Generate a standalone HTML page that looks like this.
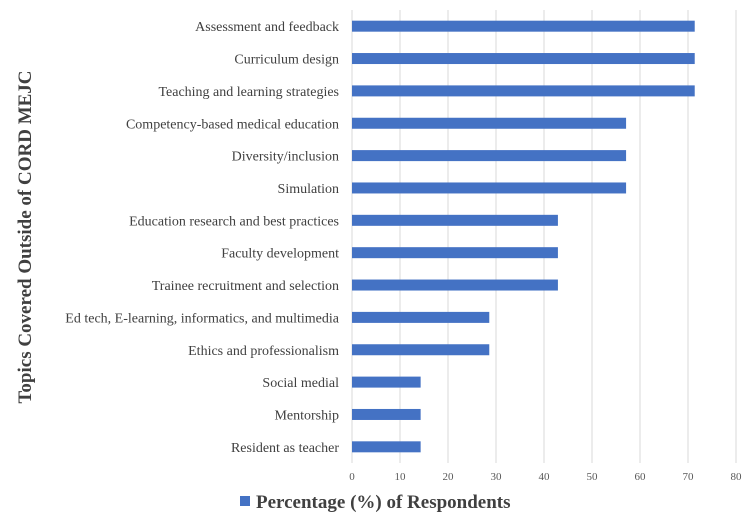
<!DOCTYPE html>
<html><head><meta charset="utf-8"><style>
body{margin:0;background:#fff;}
svg text{font-family:"Liberation Serif",serif;}
</style></head><body>
<svg id="chart" width="750" height="522"></svg>
<script>
const categories=["Assessment and feedback","Curriculum design","Teaching and learning strategies","Competency-based medical education","Diversity/inclusion","Simulation","Education research and best practices","Faculty development","Trainee recruitment and selection","Ed tech, E-learning, informatics, and multimedia","Ethics and professionalism","Social medial","Mentorship","Resident as teacher"];
const values=[71.4,71.4,71.4,57.1,57.1,57.1,42.9,42.9,42.9,28.6,28.6,14.3,14.3,14.3];
const ticks=[0,10,20,30,40,50,60,70,80];
const NS="http://www.w3.org/2000/svg";
const svg=document.getElementById('chart');
const x0=352,x1=736,yTop=10,yBot=463;
const xMax=80;
function xs(v){return x0+(x1-x0)*v/xMax;}
const band=(yBot-yTop)/categories.length;
function ys(i){return yTop+band*i+band/2;}
function mk(t,a,txt){const e=document.createElementNS(NS,t);for(const k in a)e.setAttribute(k,a[k]);if(txt!==undefined)e.textContent=txt;svg.appendChild(e);return e;}
ticks.forEach(t=>{
 const g=mk('line',{x1:xs(t),x2:xs(t),y1:yTop,y2:yBot,stroke:'#d9d9d9','stroke-width':1});
 
 
 const l=mk('text',{x:xs(t),y:480,'text-anchor':'middle','font-size':11,fill:'#595959'},t);
 
 
});
categories.forEach((c,i)=>{
 const b=mk('rect',{x:x0,y:ys(i)-5.5,width:xs(values[i])-x0,height:11,fill:'#4472c4'});
 
 
 const t=mk('text',{x:339,y:ys(i)+5,'text-anchor':'end','font-size':14,fill:'#404040'},c);
 
 
});
const yt=mk('text',{x:0,y:0,transform:'translate(31,237) rotate(-90)','text-anchor':'middle','font-size':19,'font-weight':'bold',fill:'#404040'},'Topics Covered Outside of CORD MEJC');


const lm=mk('rect',{x:240,y:496,width:10,height:10,fill:'#4472c4'});


const lt=mk('text',{x:256,y:508,'font-size':19,'font-weight':'bold',fill:'#404040'},'Percentage (%) of Respondents');


</script>
</body></html>
